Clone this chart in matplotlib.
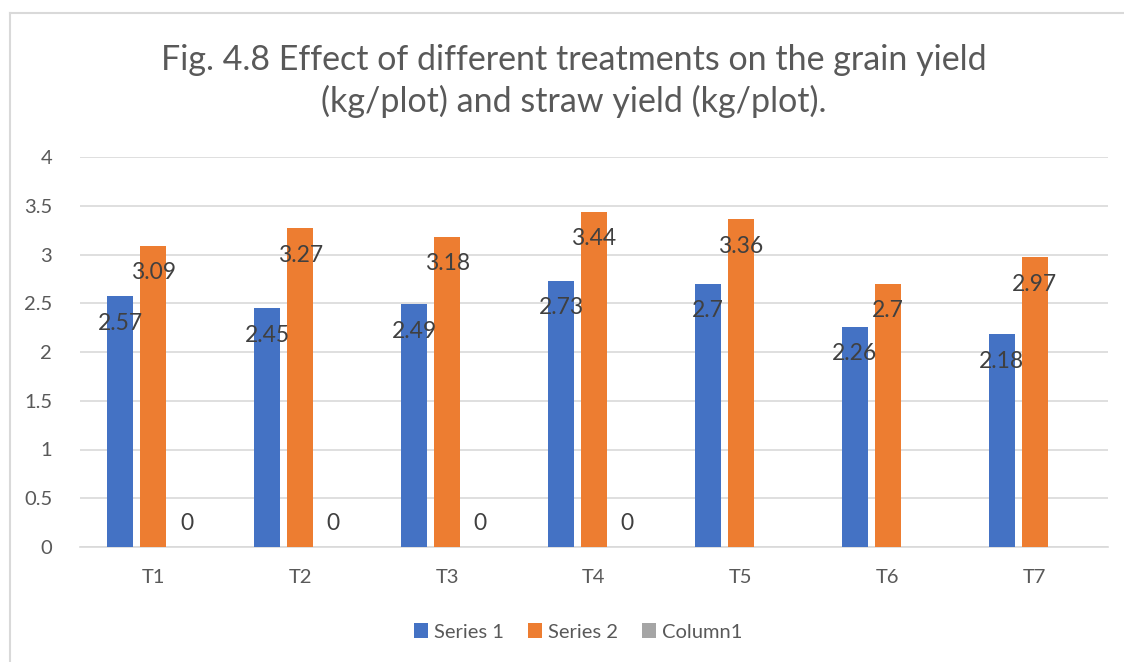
import matplotlib.pyplot as plt
import numpy as np
from matplotlib.lines import Line2D

plt.rcParams['font.family'] = ['Lato', 'DejaVu Sans']

# data
treatments = ["T1", "T2", "T3", "T4", "T5", "T6", "T7"]
series1 = [2.57, 2.45, 2.49, 2.73, 2.70, 2.26, 2.18]
series2 = [3.09, 3.27, 3.18, 3.44, 3.36, 2.70, 2.97]
column1 = [0, 0, 0, 0, np.nan, np.nan, np.nan]
series_names = ["Series 1", "Series 2", "Column1"]
colors = ["#4472C4", "#ED7D31", "#A5A5A5"]

title = "Fig. 4.8 Effect of different treatments on the grain yield\n(kg/plot) and straw yield (kg/plot)."

W, H, DPI = 1124, 662, 100
fig = plt.figure(figsize=(W / DPI, H / DPI), dpi=DPI)
# plot area in pixels: x 80..1108, y 157..547
ax = fig.add_axes([80 / W, 1 - 547 / H, (1108 - 80) / W, (547 - 157) / H])

x = np.arange(len(treatments))
bar_w = 0.177
step = 0.225
px = 72 / DPI  # pixels -> points

for i, (vals, name, col) in enumerate(zip([series1, series2, column1], series_names, colors)):
    pos = x + (i - 1) * step
    ax.bar(pos, np.nan_to_num(vals), width=bar_w, color=col, label=name, zorder=3)
    for p, v in zip(pos, vals):
        if np.isnan(v):
            continue
        dy = -27 if v > 0 else 24
        ax.annotate(f"{v:g}", (p, v), xytext=(0, dy * px), textcoords="offset points",
                    ha="center", va="center", fontsize=16.5, color="#404040", zorder=4)

ax.set_xlim(-0.5, len(treatments) - 0.5)
ax.set_ylim(0, 4)
ax.set_yticks(np.arange(0, 4.01, 0.5))
ax.set_yticklabels([f"{t:g}" for t in np.arange(0, 4.01, 0.5)])
ax.set_xticks(x)
ax.set_xticklabels(treatments)
ax.tick_params(axis="both", length=0, labelsize=14.5, colors="#595959")
ax.tick_params(axis="y", pad=20)
ax.tick_params(axis="x", pad=16)
ax.grid(axis="y", color="#D9D9D9", linewidth=1.2, zorder=0)
for s in ["top", "right", "left"]:
    ax.spines[s].set_visible(False)
ax.spines["bottom"].set_color("#D9D9D9")
ax.spines["bottom"].set_linewidth(1.2)

fig.text(574 / W, 1 - 81 / H, title, ha="center", va="center", fontsize=24.5,
         color="#595959", linespacing=1.3)

leg = fig.legend(loc="center", bbox_to_anchor=(578 / W, 1 - 632 / H), ncol=3,
                 frameon=False, fontsize=14.5, handlelength=0.7, handleheight=0.7,
                 handletextpad=0.3, columnspacing=1.2)
for t in leg.get_texts():
    t.set_color("#595959")

# chart border (only left and top visible in the crop)
fig.add_artist(Line2D([10 / W, 10 / W], [0, 1 - 13 / H], color="#D9D9D9", linewidth=1.5))
fig.add_artist(Line2D([10 / W, 1], [1 - 13 / H, 1 - 13 / H], color="#D9D9D9", linewidth=1.5))

fig.savefig("out.png", dpi=DPI)
